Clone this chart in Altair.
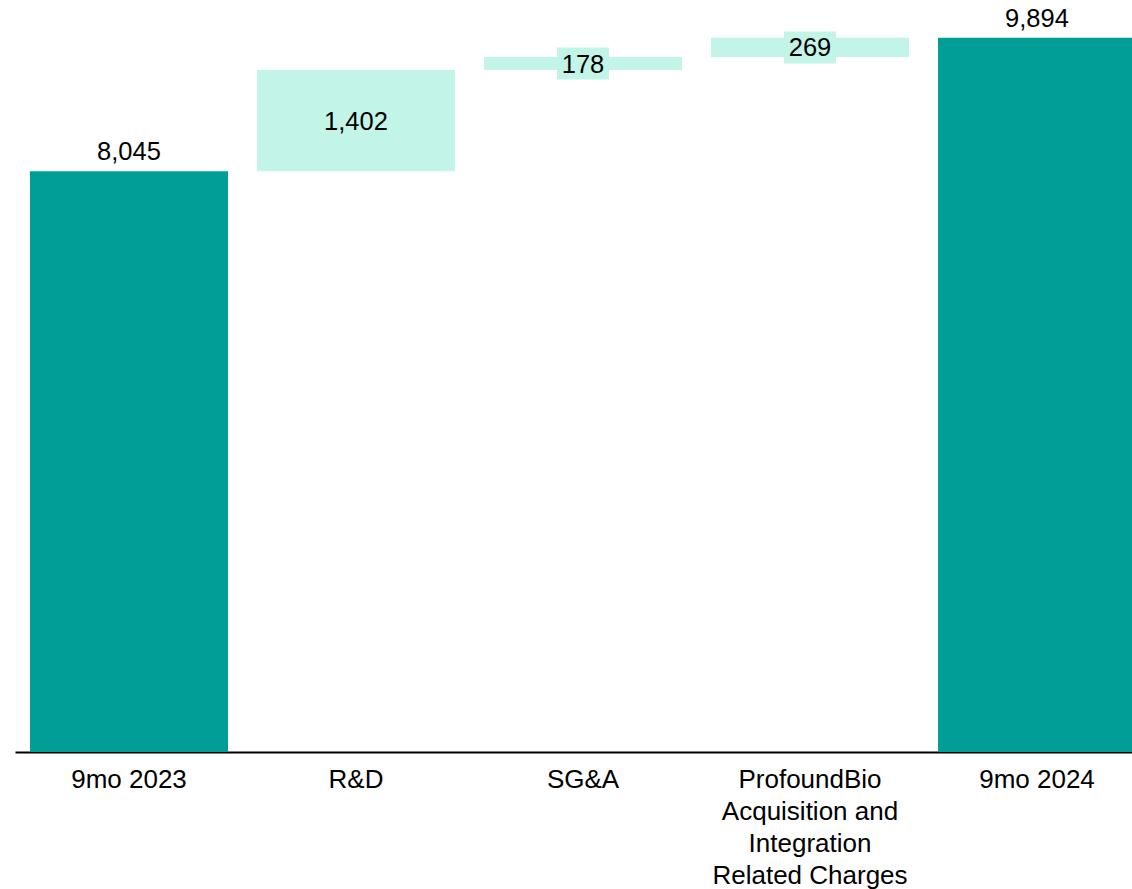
import altair as alt
import pandas as pd

# ---- data ----
categories = ["9mo 2023", "R&D", "SG&A",
              "ProfoundBio|Acquisition and|Integration|Related Charges", "9mo 2024"]
amounts = [8045, 1402, 178, 269, 9894]
kinds = ["total", "delta", "delta", "delta", "total"]
labels = ["8,045", "1,402", "178", "269", "9,894"]

TEAL = "#009E96"
MINT = "#C3F4E8"
FONT = "Liberation Sans"

rows = []
running = 0
for c, a, k, l in zip(categories, amounts, kinds, labels):
    if k == "total":
        start, end = 0, a
        running = a
    else:
        start, end = running, running + a
        running = end
    rows.append(dict(cat=c, start=start, end=end, mid=(start + end) / 2,
                     kind=k, label=l))
df = pd.DataFrame(rows)

x = alt.X(
    "cat:N", sort=categories,
    scale=alt.Scale(range=[0, 1136], paddingInner=0.1278, paddingOuter=0.0661),
    axis=alt.Axis(title=None, ticks=False, labelAngle=0,
                  labelExpr="split(datum.value, '|')",
                  labelFont=FONT, labelFontSize=26, labelColor="black",
                  labelPadding=14, labelLimit=400, labelLineHeight=32.3,
                  domainColor="black", domainWidth=2, grid=False),
)
yscale = alt.Scale(domain=[0, 10416], nice=False, zero=True)

base = alt.Chart(df)

bars = base.mark_bar(clip=True).encode(
    x=x,
    y=alt.Y("start:Q", scale=yscale, axis=None),
    y2="end:Q",
    color=alt.Color("kind:N", scale=alt.Scale(domain=["total", "delta"],
                                              range=[TEAL, MINT]), legend=None),
)

box_path = "M-1,-0.615L1,-0.615L1,0.615L-1,0.615Z"
boxes = base.transform_filter("datum.kind == 'delta'").mark_point(
    shape=box_path, filled=True, opacity=1, size=2704, color=MINT, strokeWidth=0
).encode(x=x, y=alt.Y("mid:Q", scale=yscale, axis=None))

delta_text = base.transform_filter("datum.kind == 'delta'").mark_text(
    baseline="middle", dy=1, font=FONT, fontSize=25.5, color="black"
).encode(x=x, y=alt.Y("mid:Q", scale=yscale, axis=None), text="label:N")

total_text = base.transform_filter("datum.kind == 'total'").mark_text(
    baseline="alphabetic", dy=-11, font=FONT, fontSize=25.5, color="black"
).encode(x=x, y=alt.Y("end:Q", scale=yscale, axis=None), text="label:N")

chart = alt.layer(bars, boxes, delta_text, total_text).properties(
    width=1117, height=752,
    autosize=alt.AutoSizeParams(type="none"),
    padding={"left": 15, "top": 0, "right": 0, "bottom": 137},
    background="white",
).configure_view(stroke=None)

chart.save("out.html", embed_options={"renderer": "svg", "actions": False})
